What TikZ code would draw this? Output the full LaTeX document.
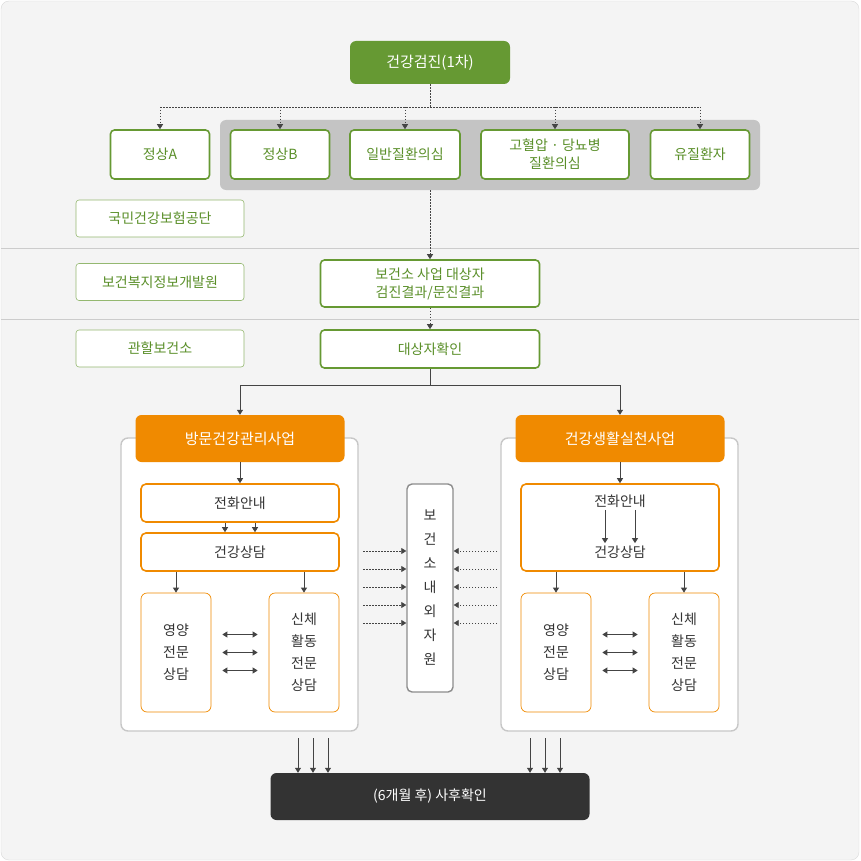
\documentclass[tikz,border=0pt]{standalone}
\usepackage{fontspec}
\setmainfont{Noto Sans CJK KR}
\usetikzlibrary{arrows.meta,positioning,calc}
\definecolor{grn}{HTML}{669933}
\definecolor{grntxt}{HTML}{5A8F29}
\definecolor{org}{HTML}{F08A00}
\definecolor{dark}{HTML}{333333}
\definecolor{bggray}{HTML}{F4F4F4}
\definecolor{band}{HTML}{C4C4C4}
\definecolor{line}{HTML}{444444}
\tikzset{
  gbox/.style={draw=grn, line width=1.6pt, rounded corners=4pt, fill=white, text=grntxt, align=center, minimum width=99pt, minimum height=49pt, inner sep=1pt},
  lbox/.style={draw=grn!70, line width=0.6pt, rounded corners=3pt, fill=white, text=grntxt, minimum width=168pt, minimum height=37pt},
  obox/.style={draw=org, line width=1.6pt, rounded corners=5pt, fill=white, text=dark, minimum width=198pt, minimum height=38pt},
  ohead/.style={fill=org, rounded corners=6pt, text=white, minimum width=209pt, minimum height=47pt, font=\fontsize{15}{18}\selectfont},
  tall/.style={draw=org, line width=0.7pt, rounded corners=6pt, fill=white, text=dark, align=center, minimum width=70pt, minimum height=119pt},
  panel/.style={draw=black!22, line width=1.4pt, rounded corners=7pt, fill=white},
  dot/.style={line, dash pattern=on 1.5pt off 1.5pt, line width=0.8pt},
  arr/.style={line, line width=0.8pt, -{Triangle[length=5pt,width=6pt]}},
  darr/.style={line, line width=0.8pt, {Triangle[length=5pt,width=6pt]}-{Triangle[length=5pt,width=6pt]}},
}
\begin{document}
\begin{tikzpicture}[x=1pt,y=-1pt, font=\fontsize{14}{22}\selectfont]
    \useasboundingbox (0,0) rectangle (860,861);
    % Background
    \draw[black!15, fill=bggray, rounded corners=8pt] (1,1) rectangle (859,860);
    \draw[black!20, line width=0.8pt] (1,248) -- (859,248);
    \draw[black!20, line width=0.8pt] (1,319) -- (859,319);

    % First check-up
    \node[fill=grn, rounded corners=6pt, text=white, minimum width=160pt, minimum height=43pt, font=\fontsize{15}{18}\selectfont] (check) at (430,62.5) {건강검진(1차)};
    \fill[band, rounded corners=6pt] (220,120) rectangle (760,190);
    \node[gbox] (normA) at (160,154.5) {정상A};
    \node[gbox] (normB) at (280,154.5) {정상B};
    \node[gbox, minimum width=110pt] (susp) at (405,154.5) {일반질환의심};
    \node[gbox, minimum width=148pt, font=\fontsize{14}{18}\selectfont] (hyper) at (555,154.5) {고혈압 · 당뇨병\\질환의심};
    \node[gbox] (patient) at (700,154.5) {유질환자};
    \coordinate (split) at (430,107);
    \draw[dot] (check.south) -- (split);
    \draw[dot] (normA.north |- split) -- (patient.north |- split);
    \foreach \n in {normA,normB,susp,hyper,patient}
        \draw[dot, -{Triangle[length=5pt,width=6pt]}] (\n.north |- split) -- (\n.north);

    % Agencies
    \node[lbox] (nhis) at (160,218.5) {국민건강보험공단};
    \node[lbox] (ssis) at (160,282) {보건복지정보개발원};
    \node[lbox] (local) at (160,348.5) {관할보건소};

    % Targets
    \node[gbox, minimum width=219pt, minimum height=47pt, font=\fontsize{14}{18}\selectfont] (target) at (430,283.5) {보건소 사업 대상자\\검진결과/문진결과};
    \node[gbox, minimum width=219pt, minimum height=38pt] (confirm) at (430,349) {대상자확인};
    \draw[dot, -{Triangle[length=5pt,width=6pt]}] (430,190) -- (target.north);
    \draw[dot, -{Triangle[length=5pt,width=6pt]}] (target.south) -- (confirm.south |- confirm.north);

    % Panels
    \draw[panel] (121,438) rectangle (358,731);
    \draw[panel] (501,438) rectangle (738,731);
    \node[ohead] (visit) at (240,438.5) {방문건강관리사업};
    \node[ohead] (life) at (620,438.5) {건강생활실천사업};
    \coordinate (fork) at (430,385);
    \draw[line, line width=0.8pt] (confirm.south) -- (fork);
    \draw[arr] (fork) -| (visit.north);
    \draw[arr] (fork) -| (life.north);

    % Left programme
    \node[obox] (callL) at (240,503) {전화안내};
    \node[obox] (consL) at (240,552) {건강상담};
    \node[tall] (nutL) at (176,652.5) {영양\\전문\\상담};
    \node[tall] (actL) at (304,652.5) {신체\\활동\\전문\\상담};
    \draw[arr] (visit.south) -- (callL.north);
    \foreach \dx in {-15,15}
        \draw[arr] ([xshift=\dx pt]callL.south) -- ([xshift=\dx pt]consL.north);
    \draw[arr] (nutL.north |- consL.south) -- (nutL.north);
    \draw[arr] (actL.north |- consL.south) -- (actL.north);
    \foreach \dy in {-18,0,18}
        \draw[darr] ([shift={(11pt,\dy pt)}]nutL.east) -- ([shift={(-11pt,\dy pt)}]actL.west);

    % Right programme
    \node[obox, minimum height=87pt] (boxR) at (620,527.5) {};
    \node[text=dark] (callR) at (620,501) {전화안내};
    \node[text=dark] (consR) at (620,552) {건강상담};
    \foreach \dx in {-15,15}
        \draw[arr] ([shift={(\dx pt,1pt)}]callR.south) -- ([shift={(\dx pt,-1pt)}]consR.north);
    \node[tall] (nutR) at (556,652.5) {영양\\전문\\상담};
    \node[tall] (actR) at (684,652.5) {신체\\활동\\전문\\상담};
    \draw[arr] (life.south) -- (boxR.north);
    \draw[arr] (nutR.north |- boxR.south) -- (nutR.north);
    \draw[arr] (actR.north |- boxR.south) -- (actR.north);
    \foreach \dy in {-18,0,18}
        \draw[darr] ([shift={(11pt,\dy pt)}]nutR.east) -- ([shift={(-11pt,\dy pt)}]actR.west);

    % Resources
    \node[draw=black!45, line width=1.4pt, rounded corners=5pt, fill=white, text=dark, minimum width=46pt, minimum height=208pt, align=center, font=\fontsize{14}{24}\selectfont] (res) at (430,588) {보\\건\\소\\내\\외\\자\\원};
    \foreach \y in {551,569,587,605,623} {
        \draw[dot, -{Triangle[length=5pt,width=6pt]}] (363,\y) -- (res.west |- 0,\y);
        \draw[dot, -{Triangle[length=5pt,width=6pt]}] (497,\y) -- (res.east |- 0,\y);
    }

    % Follow-up
    \node[fill=dark, rounded corners=6pt, text=white, minimum width=319pt, minimum height=47pt] (follow) at (430,796.5) {(6개월 후) 사후확인};
    \foreach \x in {298,313,328,530,545,560}
        \draw[arr] (\x,738) -- (follow.north -| \x,0);
\end{tikzpicture}
\end{document}
